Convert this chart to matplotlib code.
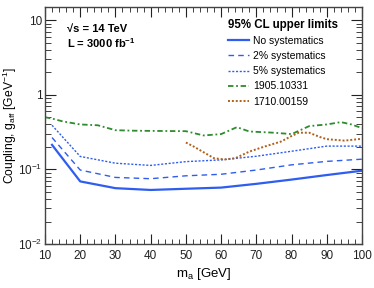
import numpy as np
import matplotlib
matplotlib.use("Agg")
import matplotlib.pyplot as plt
from matplotlib.ticker import MultipleLocator, LogLocator, NullFormatter, FixedLocator, FixedFormatter

plt.rcParams['font.family'] = ['Liberation Sans', 'DejaVu Sans']
plt.rcParams['mathtext.fontset'] = 'custom'
plt.rcParams['mathtext.rm'] = 'Liberation Sans'
plt.rcParams['mathtext.it'] = 'Liberation Sans'
plt.rcParams['mathtext.bf'] = 'Liberation Sans:bold'

# --- data ---
ma_nosys = [12, 20, 30, 40, 50, 60, 70, 80, 90, 100]
g_nosys = [0.213, 0.069, 0.056, 0.053, 0.055, 0.057, 0.064, 0.073, 0.084, 0.096]

ma_sys2 = [12, 20, 30, 40, 50, 60, 70, 80, 90, 100]
g_sys2 = [0.267, 0.098, 0.078, 0.075, 0.082, 0.086, 0.098, 0.115, 0.128, 0.137]

ma_sys5 = [12, 20, 30, 40, 50, 60, 70, 80, 90, 100]
g_sys5 = [0.39, 0.149, 0.121, 0.113, 0.127, 0.134, 0.150, 0.175, 0.205, 0.205]

ma_1905 = [10, 12, 15, 20, 25, 30, 35, 40, 50, 55, 60, 64.5, 68, 75, 80, 85, 90, 94, 97, 100]
g_1905 = [0.50, 0.48, 0.44, 0.40, 0.39, 0.335, 0.33, 0.328, 0.325, 0.285, 0.297, 0.368,
          0.322, 0.31, 0.297, 0.38, 0.40, 0.43, 0.40, 0.357]

ma_1710 = [50, 52, 55, 58, 61, 64, 68, 72, 77, 80, 82, 85, 88, 90, 95, 100]
g_1710 = [0.229, 0.205, 0.170, 0.141, 0.136, 0.141, 0.173, 0.200, 0.236, 0.280, 0.310,
          0.310, 0.272, 0.254, 0.243, 0.257]


fig = plt.figure(figsize=(3.74, 2.88), dpi=100)
ax = fig.add_axes([45/374, 1-244/288, 317/374, 237/288])

blue = '#2f5df0'
ax.plot(ma_nosys, g_nosys, color=blue, lw=1.6, ls='-', label="No systematics")
ax.plot(ma_sys2, g_sys2, color=blue, lw=1.0, ls=(0, (4, 3)), label="2% systematics")
ax.plot(ma_sys5, g_sys5, color=blue, lw=1.0, ls=(0, (1.5, 1.2)), label="5% systematics")
ax.plot(ma_1905, g_1905, color='#2e8b2e', lw=1.3, ls=(0, (3, 1.5, 1, 1.5)), label="1905.10331")
ax.plot(ma_1710, g_1710, color='#b0601a', lw=1.4, ls=(0, (1, 1)), label="1710.00159")

ax.set_yscale('log')
ax.set_xlim(10, 100)
ax.set_ylim(0.01, 15)

ax.xaxis.set_major_locator(MultipleLocator(10))
ax.xaxis.set_minor_locator(MultipleLocator(2))
ax.yaxis.set_major_locator(FixedLocator([0.01, 0.1, 1, 10]))
ax.yaxis.set_major_formatter(FixedFormatter([r'$10^{-2}$', r'$10^{-1}$', '1', '10']))
ax.yaxis.set_minor_locator(LogLocator(base=10, subs=np.arange(2, 10)))
ax.yaxis.set_minor_formatter(NullFormatter())

ax.tick_params(which='both', direction='in', top=True, right=True, labelsize=8.5, colors='#222222')
ax.tick_params(axis='x', which='major', length=7, pad=4)
ax.tick_params(axis='x', which='minor', length=3.5)
ax.tick_params(axis='y', which='major', length=8, pad=2)
ax.tick_params(axis='y', which='minor', length=4)
for s in ax.spines.values():
    s.set_linewidth(1.0)
    s.set_color('#444444')

ax.set_xlabel(r"m$_{\mathrm{a}}$ [GeV]", fontsize=9.5, labelpad=3)
ax.set_ylabel(r"Coupling, g$_{\mathrm{aff}}$ [GeV$^{-1}$]", fontsize=8.7)
ax.yaxis.set_label_coords(-0.083, 0.5)

ax.text(0.069, 0.907, "\u221as = 14 TeV", transform=ax.transAxes,
        fontsize=8, fontweight='bold', va='center', ha='left')
ax.text(0.069, 0.848, r"L = 3000 fb$^{\mathbf{-1}}$", transform=ax.transAxes,
        fontsize=8, fontweight='bold', va='center', ha='left')

leg = ax.legend(loc='upper left', bbox_to_anchor=(0.57, 0.96), frameon=False,
                title="95% CL upper limits", fontsize=7.5, handlelength=2.0,
                handletextpad=0.4, labelspacing=0.5, borderaxespad=0, borderpad=0.2,
                alignment='left')
leg.get_title().set_fontweight('bold')
leg.get_title().set_fontsize(8.3)

fig.savefig("out.png", dpi=100)
